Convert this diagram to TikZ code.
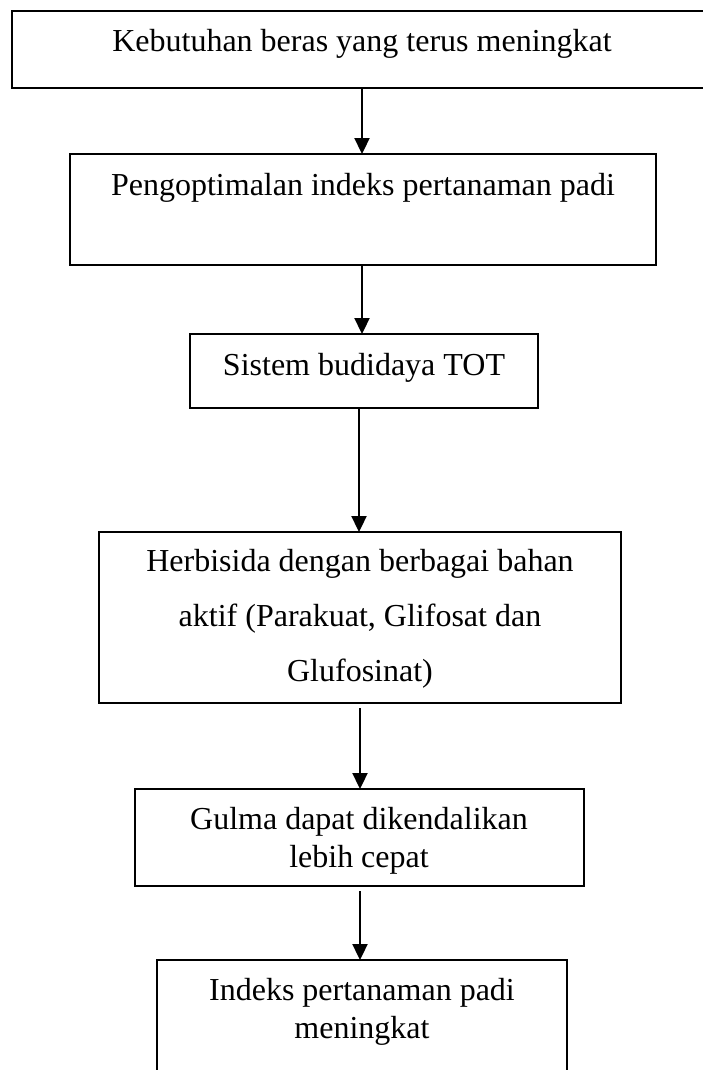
\documentclass[tikz,border=0pt]{standalone}
\usepackage{fontspec}
\setmainfont{Liberation Serif}
\usetikzlibrary{arrows.meta}
\begin{document}
\begin{tikzpicture}[x=1pt,y=-1pt,
  box/.style={draw=black,line width=2pt,rectangle,inner sep=0pt,outer sep=0pt},
  lbl/.style={font=\fontsize{32}{38}\selectfont,align=center,inner sep=0pt,anchor=base},
  arr/.style={line width=2.3pt,-{Triangle[width=15pt,length=16pt]}}]
\useasboundingbox (0,0) rectangle (703,1070);
\clip (0,0) rectangle (703,1070);
\node[box,minimum width=708pt,minimum height=77pt] (b1) at (366,49.5) {};
\node[box,minimum width=586pt,minimum height=111pt] (b2) at (363,209.5) {};
\node[box,minimum width=348pt,minimum height=74pt] (b3) at (364,371) {};
\node[box,minimum width=522pt,minimum height=171pt] (b4) at (360,617.5) {};
\node[box,minimum width=449pt,minimum height=97pt] (b5) at (359.5,837.5) {};
\node[box,minimum width=410pt,minimum height=140pt] (b6) at (362,1030) {};
\node[lbl] (t1) at (362,52) {Kebutuhan beras yang terus meningkat};
\node[lbl] (t2) at (363,195) {Pengoptimalan indeks pertanaman padi};
\node[lbl] (t3) at (364,375) {Sistem budidaya TOT};
\node[lbl,font=\fontsize{32}{55}\selectfont] (t4) at (360,681) {Herbisida dengan berbagai bahan\\aktif (Parakuat, Glifosat dan\\Glufosinat)};
\node[lbl] (t5) at (359,867) {Gulma dapat dikendalikan\\lebih cepat};
\node[lbl] (t6) at (362,1038) {Indeks pertanaman padi\\meningkat};
\draw[arr] (362,0 |- b1.south) -- (362,0 |- b2.north);
\draw[arr] (362,0 |- b2.south) -- (362,0 |- b3.north);
\draw[arr] (359,0 |- b3.south) -- (359,0 |- b4.north);
\draw[arr] ([yshift=-5pt]360,0 |- b4.south) -- (360,0 |- b5.north);
\draw[arr] ([yshift=-5pt]360,0 |- b5.south) -- (360,0 |- b6.north);
\end{tikzpicture}
\end{document}
